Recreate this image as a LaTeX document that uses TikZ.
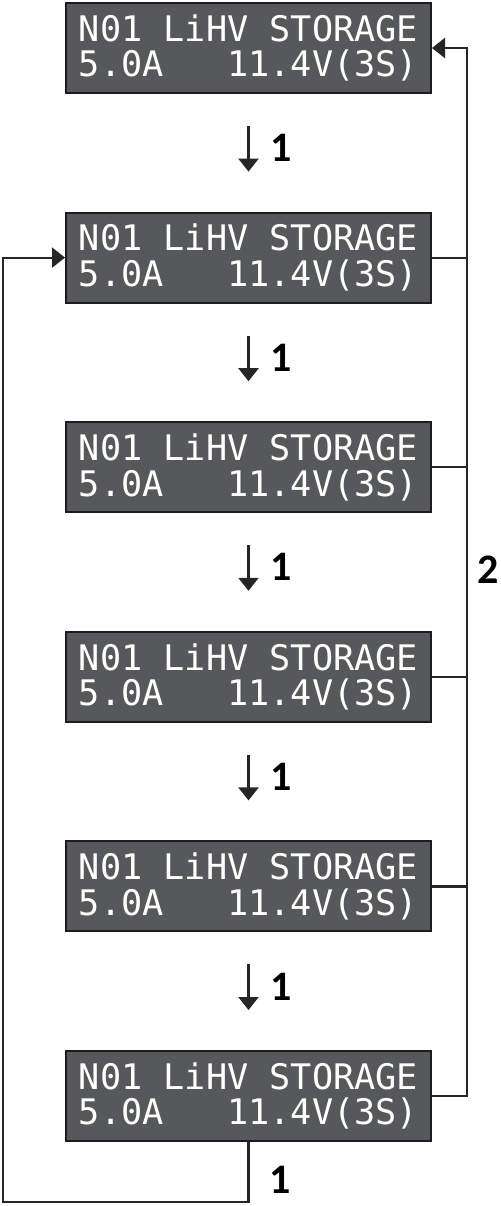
\documentclass[tikz,border=0pt]{standalone}
\usepackage{fontspec}
\usepackage{xcolor,tikz}
\usetikzlibrary{arrows.meta,positioning,calc}
\newfontfamily\lcdfont{DejaVu Sans Mono}
\newfontfamily\stepfont{Carlito}
\definecolor{LcdBack}{HTML}{575859}
\definecolor{LcdEdge}{HTML}{1C1C1E}
\definecolor{WireCol}{HTML}{262626}
\tikzset{>={Triangle[length=6.5pt,width=10pt]},lcd/.style={draw=LcdEdge,line width=1pt,
 fill=LcdBack,text=white,minimum width=182.5pt,minimum height=45pt,inner sep=0pt,align=left,
 font=\lcdfont\fontsize{17.6}{17.8}\selectfont},steplbl/.style={font=\stepfont\bfseries\fontsize{21}{21}\selectfont},
 wire/.style={draw=WireCol,line width=1.1pt}}

\begin{document}
\begin{tikzpicture}[node distance=58.8pt]
\useasboundingbox (0,0) rectangle (250.5pt,-603pt);
\node[lcd] (b1) at (124.25pt,-24pt) {N01 LiHV STORAGE\\5.0A\ \ \ 11.4V(3S)};
\node[lcd,below=of b1] (b2) {N01 LiHV STORAGE\\5.0A\ \ \ 11.4V(3S)};
\node[lcd,below=of b2] (b3) {N01 LiHV STORAGE\\5.0A\ \ \ 11.4V(3S)};
\node[lcd,below=of b3] (b4) {N01 LiHV STORAGE\\5.0A\ \ \ 11.4V(3S)};
\node[lcd,below=of b4] (b5) {N01 LiHV STORAGE\\5.0A\ \ \ 11.4V(3S)};
\node[lcd,below=of b5] (b6) {N01 LiHV STORAGE\\5.0A\ \ \ 11.4V(3S)};
% step with key 1
\foreach \a/\b in {b1/b2,b2/b3,b3/b4,b4/b5,b5/b6}{
 \draw[wire,->,shorten <=16pt,shorten >=20pt] (\a.south) -- (\b.north)
  node[steplbl,pos=0.46,right=7pt] {1};
}
% back to top with key 2
\coordinate (bus) at (233.5pt,0);
\draw[wire,->] (b6.east) -- (b6.east -| bus) -- (b1.east -| bus) -- (b1.east);
\foreach \k in {b2,b3,b4,b5}{
 \draw[wire] (\k.east) -- (\k.east -| bus);
}
\node[steplbl] (two) at (244pt,-285pt) {2};
% last one loops to second
\coordinate (bl) at (1.5pt,-601pt);
\draw[wire,->] (b6.south) -- (b6.south |- bl) -- (bl) -- (bl |- b2.west) -- (b2.west);
\node[steplbl] (one) at (140pt,-590pt) {1};
\end{tikzpicture}
\end{document}
